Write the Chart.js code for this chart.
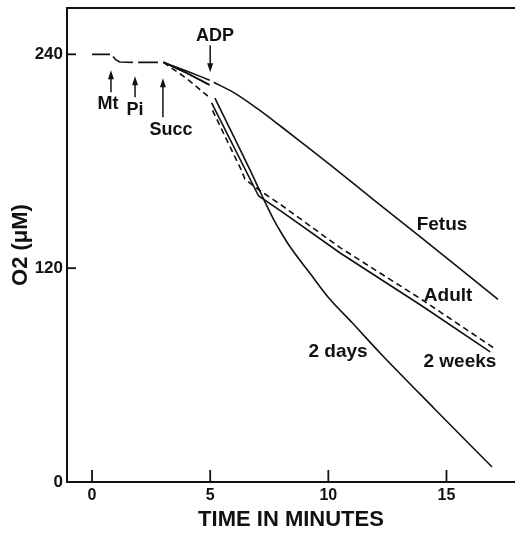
<!DOCTYPE html>
<html>
<head>
<meta charset="utf-8">
<title>O2 consumption vs time</title>
<script src="https://cdn.jsdelivr.net/npm/chart.js@4.4.1/dist/chart.umd.min.js"></script>
<style>
  html, body { margin: 0; padding: 0; background: #fff; }
  #wrap { width: 515px; height: 533px; }
</style>
</head>
<body>
<div id="wrap"><canvas id="chart" width="515" height="533"></canvas></div>
<script>
/* =========================================================================
   DATA (time in minutes, O2 in uM)
   null = break in the trace (where an addition was made)
   ========================================================================= */
var xTicks = [0, 5, 10, 15];
var yTicks = [0, 120, 240];

var baseTime = [0, 0.76, 0.82, 0.89, 1.0, 1.18, 1.73, 1.84, 1.95, 2.79, 2.9];
var baseO2   = [240, 240, null, 238.8, 237, 235.7, 235.5, null, 235.5, 235.5, null];

var fetusTime = [3.02, 4.0, 4.98, 5.07, 5.15, 6.0, 7.0, 8.0, 9.0, 10.0, 12.0, 14.0, 17.18];
var fetusO2   = [235.5, 230.6, 225.5, null, 224.3, 218.5, 209.5, 199.5, 189.2, 178.8, 157.5, 136.5, 102.5];

var adultTime = [3.02, 4.0, 4.97, 5.02, 5.06, 7.05, 8.0, 10.5, 14.0, 16.85];
var adultO2   = [235.5, 229.5, 222.7, null, 212.8, 160.5, 152, 128.5, 98.5, 73];

var daysTime = [3.02, 4.0, 4.97, 5.1, 5.2, 6.69, 7.2, 7.66, 8.0, 8.38, 9.23, 10.07, 11.0, 12.19, 14.5, 16.93];
var daysO2   = [235.5, 229.6, 222.9, null, 215.4, 175, 160.5, 148, 140, 132, 117, 102.5, 89.5, 72.4, 41, 8.4];

var weeksTime = [3.02, 4.0, 4.9, 5.0, 5.1, 5.7, 6.3, 6.47, 6.8, 7.11, 8.0, 10.5, 14.0, 16.97];
var weeksO2   = [235.5, 226.5, 216.5, null, 208.5, 192, 175.5, 170, 166.5, 163.5, 155.5, 131.5, 102, 75.5];

/* =========================================================================
   ANNOTATIONS — additions (arrows) and trace names, in data units
   ========================================================================= */
var additions = [
  { text: 'Mt',   tx: 0.68, ty: 212,   x: 0.8,  tail: 218.7, tip: 231.1 },
  { text: 'Pi',   tx: 1.82, ty: 208.6, x: 1.82, tail: 215.9, tip: 227.7 },
  { text: 'Succ', tx: 3.34, ty: 197.4, x: 3.0,  tail: 204.7, tip: 226.6 },
  { text: 'ADP',  tx: 5.2,  ty: 250.1, x: 5.0,  tail: 245.1, tip: 230.0 }
];

var traceLabels = [
  { text: 'Fetus',   tx: 14.81, ty: 144.1 },
  { text: 'Adult',   tx: 15.07, ty: 104.3 },
  { text: '2 weeks', tx: 15.57, ty: 67.3 },
  { text: '2 days',  tx: 10.41, ty: 72.9 }
];

(function () {
  'use strict';

  var INK = '#111';
  var FONT = '"Liberation Sans", Arial, Helvetica, sans-serif';

  function toPoints(xs, ys) {
    return xs.map(function (x, i) { return { x: x, y: ys[i] }; });
  }

  function trace(label, xs, ys, opts) {
    opts = opts || {};
    return {
      label: label,
      data: toPoints(xs, ys),
      borderColor: INK,
      borderWidth: 1.6,
      borderDash: opts.dash || [],
      cubicInterpolationMode: opts.smooth ? 'monotone' : 'default',
      pointRadius: 0,
      tension: 0,
      spanGaps: false,
      fill: false
    };
  }

  /* frame top, inward ticks, arrows and text */
  var markers = {
    id: 'markers',
    afterDraw: function (chart) {
      var ctx = chart.ctx;
      var xs = chart.scales.x;
      var ys = chart.scales.y;
      var area = chart.chartArea;

      ctx.save();
      ctx.strokeStyle = INK;
      ctx.fillStyle = INK;

      // top frame line
      ctx.lineWidth = 2;
      ctx.beginPath();
      ctx.moveTo(area.left, area.top);
      ctx.lineTo(area.right, area.top);
      ctx.stroke();

      // ticks pointing into the plot
      ctx.lineWidth = 1.8;
      xTicks.forEach(function (v) {
        var px = xs.getPixelForValue(v);
        ctx.beginPath();
        ctx.moveTo(px, area.bottom);
        ctx.lineTo(px, area.bottom - 12);
        ctx.stroke();
      });
      yTicks.forEach(function (v) {
        if (v === 0) return;
        var py = ys.getPixelForValue(v);
        ctx.beginPath();
        ctx.moveTo(area.left, py);
        ctx.lineTo(area.left + 9, py);
        ctx.stroke();
      });

      // arrows marking additions
      additions.forEach(function (a) {
        var px = xs.getPixelForValue(a.x);
        var tip = ys.getPixelForValue(a.tip);
        var tail = ys.getPixelForValue(a.tail);
        var dir = tip < tail ? -1 : 1;
        ctx.lineWidth = 1.5;
        ctx.beginPath();
        ctx.moveTo(px, tail);
        ctx.lineTo(px, tip - dir * 6);
        ctx.stroke();
        ctx.beginPath();
        ctx.moveTo(px, tip);
        ctx.lineTo(px - 3, tip - dir * 9);
        ctx.lineTo(px + 3, tip - dir * 9);
        ctx.closePath();
        ctx.fill();
      });

      ctx.textAlign = 'center';
      ctx.textBaseline = 'middle';
      ctx.font = 'bold 18px ' + FONT;
      additions.forEach(function (a) {
        ctx.fillText(a.text, xs.getPixelForValue(a.tx), ys.getPixelForValue(a.ty));
      });
      ctx.font = 'bold 19px ' + FONT;
      traceLabels.forEach(function (l) {
        ctx.fillText(l.text, xs.getPixelForValue(l.tx), ys.getPixelForValue(l.ty));
      });

      ctx.restore();
    }
  };

  function fixedTicks(values) {
    return function (scale) {
      scale.ticks = values.map(function (v) { return { value: v }; });
    };
  }

  new Chart(document.getElementById('chart'), {
    type: 'line',
    data: {
      datasets: [
        trace('baseline', baseTime, baseO2),
        trace('Fetus', fetusTime, fetusO2, { smooth: true }),
        trace('Adult', adultTime, adultO2),
        trace('2 days', daysTime, daysO2, { smooth: true }),
        trace('2 weeks', weeksTime, weeksO2, { dash: [6, 4] })
      ]
    },
    options: {
      responsive: false,
      animation: false,
      events: [],
      layout: { padding: { top: 8, right: 0, left: 0, bottom: 0 } },
      plugins: {
        legend: { display: false },
        tooltip: { enabled: false }
      },
      scales: {
        x: {
          type: 'linear',
          min: -1.06,
          max: 17.9,
          afterBuildTicks: fixedTicks(xTicks),
          afterFit: function (s) { s.height = 51; s.paddingLeft = 0; s.paddingRight = 0; },
          grid: { drawOnChartArea: false, drawTicks: false },
          border: { color: INK, width: 2 },
          ticks: {
            color: INK,
            padding: 4,
            maxRotation: 0,
            font: { family: FONT, size: 16, weight: 'bold' }
          },
          title: {
            display: true,
            text: 'TIME IN MINUTES',
            color: INK,
            padding: { top: 0, bottom: 0 },
            font: { family: FONT, size: 22, weight: 'bold' }
          }
        },
        y: {
          type: 'linear',
          min: 0,
          max: 266,
          afterBuildTicks: fixedTicks(yTicks),
          afterFit: function (s) { s.width = 67; s.paddingTop = 0; s.paddingBottom = 0; },
          grid: { drawOnChartArea: false, drawTicks: false },
          border: { color: INK, width: 2 },
          ticks: {
            color: INK,
            padding: 4,
            font: { family: FONT, size: 17, weight: 'bold' }
          },
          title: {
            display: true,
            text: 'O2 (\u03bcM)',
            color: INK,
            padding: { top: 8, bottom: 0 },
            font: { family: FONT, size: 22, weight: 'bold' }
          }
        }
      }
    },
    plugins: [markers]
  });
}());
</script>
</body>
</html>
